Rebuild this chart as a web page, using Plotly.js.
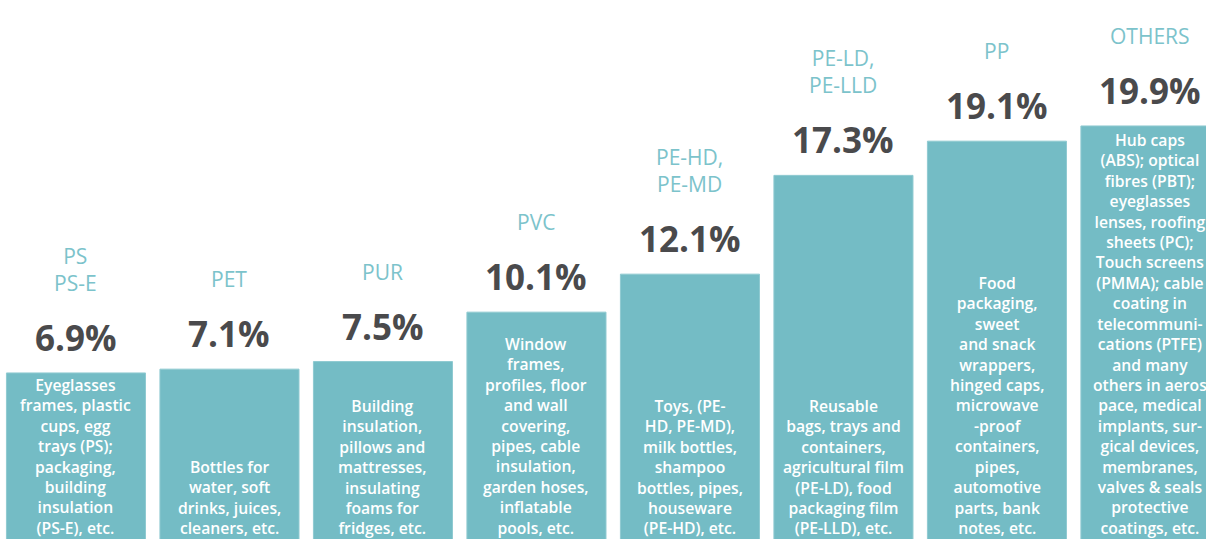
<!DOCTYPE html>
<html>
<head>
<meta charset="utf-8">
<script src="https://cdn.plot.ly/plotly-3.0.1.min.js"></script>
<style>html,body{margin:0;padding:0;background:#fff;overflow:hidden}#chart{width:1206px;height:539px}</style>
</head>
<body>
<div id="chart"></div>
<script>
const categories = ["PS<br>PS-E", "PET", "PUR", "PVC", "PE-HD,<br>PE-MD", "PE-LD,<br>PE-LLD", "PP", "OTHERS"];
const shares = [6.9, 7.1, 7.5, 10.1, 12.1, 17.3, 19.1, 19.9];
const applications = [
  "Eyeglasses<br>frames, plastic<br>cups, egg<br>trays (PS);<br>packaging,<br>building<br>insulation<br>(PS-E), etc.",
  "Bottles for<br>water, soft<br>drinks, juices,<br>cleaners, etc.",
  "Building<br>insulation,<br>pillows and<br>mattresses,<br>insulating<br>foams for<br>fridges, etc.",
  "Window<br>frames,<br>profiles, floor<br>and wall<br>covering,<br>pipes, cable<br>insulation,<br>garden hoses,<br>inflatable<br>pools, etc.",
  "Toys, (PE-<br>HD, PE-MD),<br>milk bottles,<br>shampoo<br>bottles, pipes,<br>houseware<br>(PE-HD), etc.",
  "Reusable<br>bags, trays and<br>containers,<br>agricultural film<br>(PE-LD), food<br>packaging film<br>(PE-LLD), etc.",
  "Food<br>packaging,<br>sweet<br>and snack<br>wrappers,<br>hinged caps,<br>microwave<br>-proof<br>containers,<br>pipes,<br>automotive<br>parts, bank<br>notes, etc.",
  "Hub caps<br>(ABS); optical<br>fibres (PBT);<br>eyeglasses<br>lenses, roofing<br>sheets (PC);<br>Touch screens<br>(PMMA); cable<br>coating in<br>telecommuni-<br>cations (PTFE)<br>and many<br>others in aeros<br>pace, medical<br>implants, sur-<br>gical devices,<br>membranes,<br>valves &amp; seals<br>protective<br>coatings, etc."
];

const xs = categories.map((c, i) => i);
const barColor = "#74bcc5";
const teal = "#7cc3cb";
const dark = "#4a4a4c";
const innerFont = {family: "Open Sans, sans-serif", size: 15.7, color: "#ffffff", weight: 600};

const annotations = [];
xs.forEach((x, i) => {
  annotations.push({
    x: x, y: shares[i], xref: "x", yref: "y",
    text: shares[i].toFixed(1) + "%",
    showarrow: false, yanchor: "bottom", yshift: 10,
    font: {family: "Open Sans, sans-serif", size: 35, color: dark, weight: 700}
  });
  annotations.push({
    x: x, y: shares[i], xref: "x", yref: "y",
    text: categories[i],
    showarrow: false, yanchor: "bottom", yshift: 74,
    font: {family: "Open Sans, sans-serif", size: 21, color: teal}
  });
  annotations.push({
    x: x, y: 0, xref: "x", yref: "paper",
    text: applications[i],
    showarrow: false, yanchor: "bottom", yshift: -2, align: "center",
    font: innerFont
  });
});

const trace = {
  type: "bar",
  x: xs,
  y: shares.map(v => v + 3),
  base: -3,
  marker: {color: barColor, line: {color: "#8fcad1", width: 1}},
  hoverinfo: "skip"
};

const layout = {
  width: 1206, height: 539,
  margin: {l: 0, r: 0, t: 0, b: 0, pad: 0},
  paper_bgcolor: "#ffffff", plot_bgcolor: "#ffffff",
  showlegend: false,
  bargap: 0.094,
  xaxis: {range: [-0.495, 7.362], visible: false, fixedrange: true},
  yaxis: {range: [-1.84, 26.53], visible: false, fixedrange: true},
  annotations: annotations
};

Plotly.newPlot("chart", [trace], layout, {displayModeBar: false, staticPlot: true});
</script>
</body>
</html>
